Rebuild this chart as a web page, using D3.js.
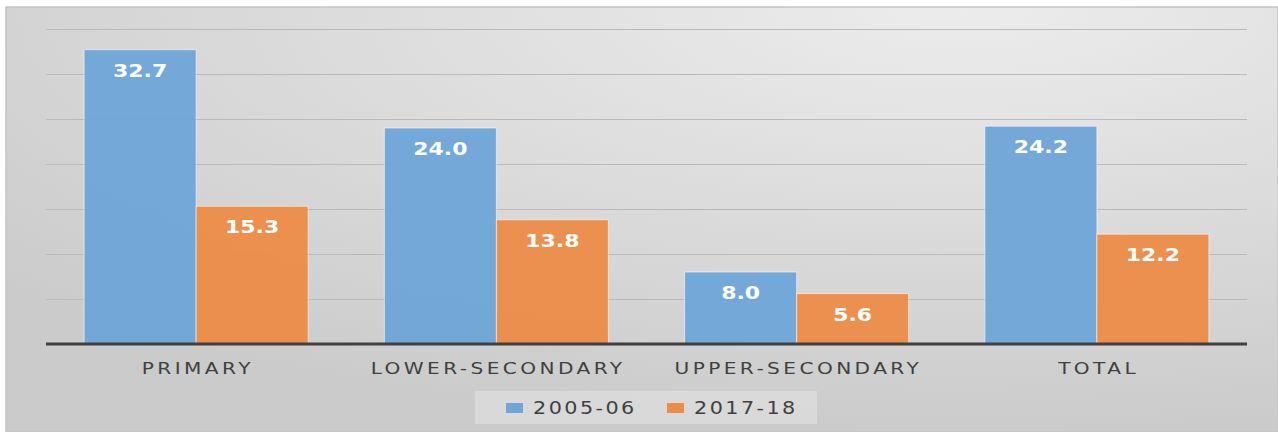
<!DOCTYPE html>
<html>
<head>
<meta charset="utf-8">
<script src="https://cdn.jsdelivr.net/npm/d3@7"></script>
<style>
  html, body { margin: 0; padding: 0; background: #fff; }
  svg { display: block; }
</style>
</head>
<body>
<div id="chart"></div>
<script>
(function() {
    'use strict';

    // data
    const categories = ['PRIMARY', 'LOWER-SECONDARY', 'UPPER-SECONDARY', 'TOTAL'];
    const seriesNames = ['2005-06', '2017-18'];
    const values2005 = [32.7, 24.0, 8.0, 24.2];
    const values2017 = [15.3, 13.8, 5.6, 12.2];
    const gridTicks = [5, 10, 15, 20, 25, 30, 35];
    const colors = ['#6fa5d8', '#ec8c4a'];

    const W = 1278, H = 432;
    const plot = { left: 46, right: 1247, top: 29, bottom: 344 };
    // the source picture is stretched sideways, so text is widened a bit
    const SX = 1.22;

    const svg = d3.select('#chart').append('svg')
        .attr('width', W)
        .attr('height', H);

    const defs = svg.append('defs');
    const grad = defs.append('radialGradient')
        .attr('id', 'bg')
        .attr('cx', '75%').attr('cy', '0%')
        .attr('r', '100%')
        .attr('gradientUnits', 'objectBoundingBox');
    grad.append('stop').attr('offset', '0%').attr('stop-color', '#ececec');
    grad.append('stop').attr('offset', '100%').attr('stop-color', '#cbcbcb');

    svg.append('rect')
        .attr('x', 6).attr('y', 7)
        .attr('width', W - 6).attr('height', H - 7)
        .attr('fill', 'url(#bg)')
        .attr('stroke', '#c4c4c4')
        .attr('stroke-width', 1.5);

    const y = d3.scaleLinear()
        .domain([0, 35])
        .range([plot.bottom, plot.top]);

    const x0 = d3.scaleBand()
        .domain(categories)
        .range([plot.left, plot.right])
        .paddingInner(0.254)
        .paddingOuter(0.127);

    const x1 = d3.scaleBand()
        .domain(seriesNames)
        .range([0, x0.bandwidth()]);

    // gridlines
    svg.append('g')
        .selectAll('line')
        .data(gridTicks)
        .enter()
        .append('line')
        .attr('x1', plot.left)
        .attr('x2', plot.right)
        .attr('y1', d => Math.round(y(d)) + 0.5)
        .attr('y2', d => Math.round(y(d)) + 0.5)
        .attr('stroke', '#bababa')
        .attr('stroke-width', 1);

    const rows = categories.map((c, i) => ({
        cat: c,
        vals: [
            { key: seriesNames[0], v: values2005[i] },
            { key: seriesNames[1], v: values2017[i] }
        ]
    }));

    const groups = svg.append('g')
        .selectAll('g')
        .data(rows)
        .enter()
        .append('g')
        .attr('transform', d => `translate(${x0(d.cat)},0)`);

    groups.selectAll('rect')
        .data(d => d.vals)
        .enter()
        .append('rect')
        .attr('x', d => x1(d.key))
        .attr('y', d => y(d.v))
        .attr('width', x1.bandwidth())
        .attr('height', d => y(0) - y(d.v))
        .attr('fill', (d, i) => colors[i])
        .attr('fill-opacity', 0.96)
        .attr('stroke', 'rgba(255,255,255,0.55)')
        .attr('stroke-width', 1);

    // value labels inside bars
    groups.selectAll('text')
        .data(d => d.vals)
        .enter()
        .append('text')
        .attr('transform', d => `translate(${x1(d.key) + x1.bandwidth() / 2},${y(d.v) + 27}) scale(${SX},1)`)
        .attr('text-anchor', 'middle')
        .style('font-family', '"DejaVu Sans", Verdana, sans-serif')
        .style('font-weight', 'bold')
        .style('font-size', '18px')
        .style('fill', '#ffffff')
        .text(d => d.v.toFixed(1));

    // baseline axis
    const xAxis = svg.append('g')
        .attr('transform', `translate(0,${plot.bottom})`)
        .call(d3.axisBottom(x0).tickSize(0).tickPadding(18));
    xAxis.select('.domain')
        .attr('stroke', '#404040')
        .attr('stroke-width', 3)
        .attr('d', `M${plot.left},0H${plot.right}`);
    xAxis.selectAll('text')
        .attr('dy', '0.71em')
        .attr('dx', 1.4)
        .attr('transform', `scale(${SX},1)`)
        .style('font-family', '"DejaVu Sans", sans-serif')
        .style('font-size', '16.5px')
        .style('letter-spacing', '2.8px')
        .style('fill', '#404040');

    // legend
    const legend = svg.append('g');
    legend.append('rect')
        .attr('x', 475).attr('y', 391)
        .attr('width', 342).attr('height', 33)
        .attr('fill', '#dedede')
        .attr('fill-opacity', 0.75);

    const legendX = [506, 667];
    const items = legend.selectAll('g')
        .data(seriesNames)
        .enter()
        .append('g')
        .attr('transform', (d, i) => `translate(${legendX[i]},0)`);
    items.append('rect')
        .attr('x', 0).attr('y', 403)
        .attr('width', 17).attr('height', 10)
        .attr('fill', (d, i) => colors[i]);
    items.append('text')
        .attr('transform', `translate(27,414) scale(${SX},1)`)
        .style('font-family', '"DejaVu Sans", sans-serif')
        .style('font-size', '17px')
        .style('letter-spacing', '2px')
        .style('fill', '#404040')
        .text(d => d);
})();
</script>
</body>
</html>
